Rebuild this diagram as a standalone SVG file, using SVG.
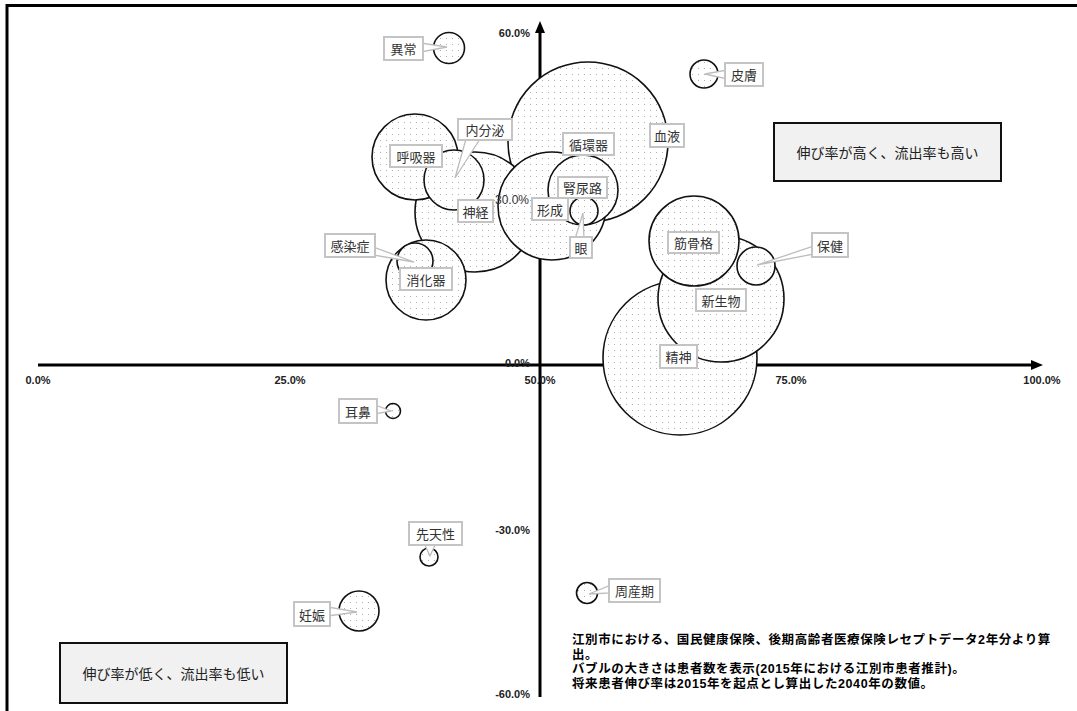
<svg xmlns="http://www.w3.org/2000/svg" width="1077" height="711" viewBox="0 0 1077 711">
<style>
.bub{fill:url(#dots);stroke:#111;stroke-width:1.6}
.lb{fill:#fff;stroke:#c4c4c4;stroke-width:2}
.tail{fill:#fff;stroke:#bdbdbd;stroke-width:1.3;stroke-linejoin:miter}
.lt{font-family:"Noto Sans CJK JP","Noto Sans",sans-serif;font-size:13px;fill:#333;text-anchor:middle;dominant-baseline:central}
.ax{font-family:"Liberation Sans",Arial,sans-serif;font-size:11px;font-weight:bold;fill:#222}
.ax2{font-family:"Liberation Sans",Arial,sans-serif;font-size:12px;fill:#333}
.quad{fill:#f1f1f1;stroke:#111;stroke-width:2}
.qt{font-family:"Noto Sans CJK JP","Noto Sans",sans-serif;font-size:14px;fill:#222;text-anchor:middle;dominant-baseline:central}
.note{font-family:"Liberation Sans","Noto Sans CJK JP",sans-serif;font-size:12.5px;letter-spacing:0.6px;font-weight:bold;fill:#000}
</style>
<defs>
<pattern id="dots" width="6" height="6" patternUnits="userSpaceOnUse">
<rect width="6" height="6" fill="#fff"/>
<rect x="2" y="2" width="1" height="1" fill="#b0b0b0"/>
</pattern>
</defs>
<rect width="1077" height="711" fill="#fff"/>
<path d="M7 711 V5.5 H1077" fill="none" stroke="#000" stroke-width="3"/>

<g id="axes">
<line x1="38" y1="365" x2="1034" y2="365" stroke="#000" stroke-width="3"/>
<polygon points="1031,360 1043,365 1031,370" fill="#000"/>
<line x1="540" y1="697" x2="540" y2="31" stroke="#000" stroke-width="3"/>
<polygon points="535,33 540,21 545,33" fill="#000"/>
<text class="ax" x="38" y="384" text-anchor="middle">0.0%</text>
<text class="ax" x="290" y="384" text-anchor="middle">25.0%</text>
<text class="ax" x="540" y="384" text-anchor="middle">50.0%</text>
<text class="ax" x="791" y="384" text-anchor="middle">75.0%</text>
<text class="ax" x="1042" y="384" text-anchor="middle">100.0%</text>
<text class="ax" x="530" y="37" text-anchor="end">60.0%</text>
<text class="ax" x="530" y="367" text-anchor="end">0.0%</text>
<text class="ax" x="530" y="534" text-anchor="end">-30.0%</text>
<text class="ax" x="530" y="698" text-anchor="end">-60.0%</text>
</g>

<g id="bubbles">
<circle id="b-junkan" class="bub" cx="588" cy="144" r="45"/>
<circle id="b-ketsueki" class="bub" cx="588" cy="142" r="80"/>
<circle id="b-shinkei" class="bub" cx="475" cy="212" r="60"/>
<circle id="b-kokyu" class="bub" cx="415" cy="157" r="43"/>
<circle id="b-naibunpi" class="bub" cx="454" cy="180" r="30"/>
<circle id="b-shoka" class="bub" cx="426" cy="280" r="40"/>
<circle id="b-kansen" class="bub" cx="415" cy="261" r="18"/>
<circle id="b-keisei" class="bub" cx="552" cy="206" r="54"/>
<circle id="b-jinnyoro" class="bub" cx="583" cy="190" r="35"/>
<circle id="b-me" class="bub" cx="584" cy="211" r="14"/>
<circle id="b-seishin" class="bub" cx="680" cy="358" r="77"/>
<circle id="b-shinseibutsu" class="bub" cx="721" cy="299" r="63"/>
<circle id="b-kinkokkaku" class="bub" cx="694" cy="241" r="45"/>
<circle id="b-hoken" class="bub" cx="756" cy="266" r="19"/>
<circle id="b-ijo" class="bub" cx="449" cy="48" r="15.5"/>
<circle id="b-hifu" class="bub" cx="704" cy="74" r="14"/>
<circle id="b-jibi" class="bub" cx="393" cy="411" r="7.5"/>
<circle id="b-sentensei" class="bub" cx="429" cy="557" r="9"/>
<circle id="b-ninshin" class="bub" cx="359" cy="611" r="20"/>
<circle id="b-shusanki" class="bub" cx="587" cy="593" r="10.5"/>
</g>

<text class="ax2" x="529" y="204" text-anchor="end">30.0%</text>

<g id="labels">
<g id="n-ijo"><polygon class="tail" points="421,43 421,52 447,47"/><rect class="lb" x="384" y="37" width="39" height="23"/><text class="lt" x="403.5" y="48.5">異常</text></g>
<g id="n-hifu"><polygon class="tail" points="727,70 727,79 705,74"/><rect class="lb" x="725" y="63" width="38" height="23"/><text class="lt" x="744" y="74.5">皮膚</text></g>
<g id="n-ketsueki"><rect class="lb" x="650" y="124" width="34" height="23"/><text class="lt" x="667" y="135.5">血液</text></g>
<g id="n-junkan"><rect class="lb" x="563" y="133" width="51" height="22"/><text class="lt" x="588.5" y="144">循環器</text></g>
<g id="n-jinnyoro"><rect class="lb" x="558" y="177" width="49" height="21"/><text class="lt" x="582.5" y="187.5">腎尿路</text></g>
<g id="n-me"><polygon class="tail" points="575,239 584,239 583,213"/><rect class="lb" x="570" y="237" width="22" height="21"/><text class="lt" x="581" y="247.5">眼</text></g>
<g id="n-keisei"><rect class="lb" x="532" y="198" width="36" height="22"/><text class="lt" x="550" y="209">形成</text></g>
<g id="n-naibunpi"><polygon class="tail" points="466,139 480,139 455,178"/><rect class="lb" x="458" y="119" width="54" height="21"/><text class="lt" x="485" y="129.5">内分泌</text></g>
<g id="n-kokyu"><rect class="lb" x="390" y="145" width="52" height="22"/><text class="lt" x="416" y="156">呼吸器</text></g>
<g id="n-shinkei"><rect class="lb" x="458" y="200" width="35" height="22"/><text class="lt" x="475.5" y="211">神経</text></g>
<g id="n-kansen"><polygon class="tail" points="373,247 373,255 414,262"/><rect class="lb" x="325" y="234" width="50" height="23"/><text class="lt" x="350" y="245.5">感染症</text></g>
<g id="n-shoka"><rect class="lb" x="400" y="268" width="52" height="22"/><text class="lt" x="426" y="279">消化器</text></g>
<g id="n-kinkokkaku"><rect class="lb" x="668" y="232" width="51" height="21"/><text class="lt" x="693.5" y="242.5">筋骨格</text></g>
<g id="n-hoken"><polygon class="tail" points="814,246 814,254 757,265"/><rect class="lb" x="812" y="233" width="36" height="24"/><text class="lt" x="830" y="245">保健</text></g>
<g id="n-shinseibutsu"><rect class="lb" x="696" y="289" width="50" height="22"/><text class="lt" x="721" y="300">新生物</text></g>
<g id="n-seishin"><rect class="lb" x="660" y="345" width="37" height="23"/><text class="lt" x="678.5" y="356.5">精神</text></g>
<g id="n-jibi"><polygon class="tail" points="375,405 375,414 391,411"/><rect class="lb" x="339" y="399" width="38" height="24"/><text class="lt" x="358" y="411">耳鼻</text></g>
<g id="n-sentensei"><polygon class="tail" points="424,543 436,543 430,556"/><rect class="lb" x="409" y="522" width="53" height="23"/><text class="lt" x="435.5" y="533.5">先天性</text></g>
<g id="n-ninshin"><polygon class="tail" points="328,607 328,616 357,612"/><rect class="lb" x="294" y="602" width="36" height="24"/><text class="lt" x="312" y="614">妊娠</text></g>
<g id="n-shusanki"><polygon class="tail" points="611,585 611,593 589,594"/><rect class="lb" x="609" y="579" width="51" height="23"/><text class="lt" x="634.5" y="590.5">周産期</text></g>
</g>

<g id="quadrants">
<g id="q-high"><rect class="quad" x="774" y="123" width="227" height="58"/><text class="qt" x="887.5" y="152">伸び率が高く、流出率も高い</text></g>
<g id="q-low"><rect class="quad" x="60" y="643" width="227" height="60"/><text class="qt" x="173.5" y="673">伸び率が低く、流出率も低い</text></g>
</g>

<g id="notes">
<text class="note" x="572" y="644"><tspan x="572">江別市における、国民健康保険、後期高齢者医療保険レセプトデータ2年分より算</tspan><tspan x="572" dy="14.5">出。</tspan><tspan x="572" dy="14.5">バブルの大きさは患者数を表示(2015年における江別市患者推計)。</tspan><tspan x="572" dy="14.5">将来患者伸び率は2015年を起点とし算出した2040年の数値。</tspan></text>
</g>
</svg>
